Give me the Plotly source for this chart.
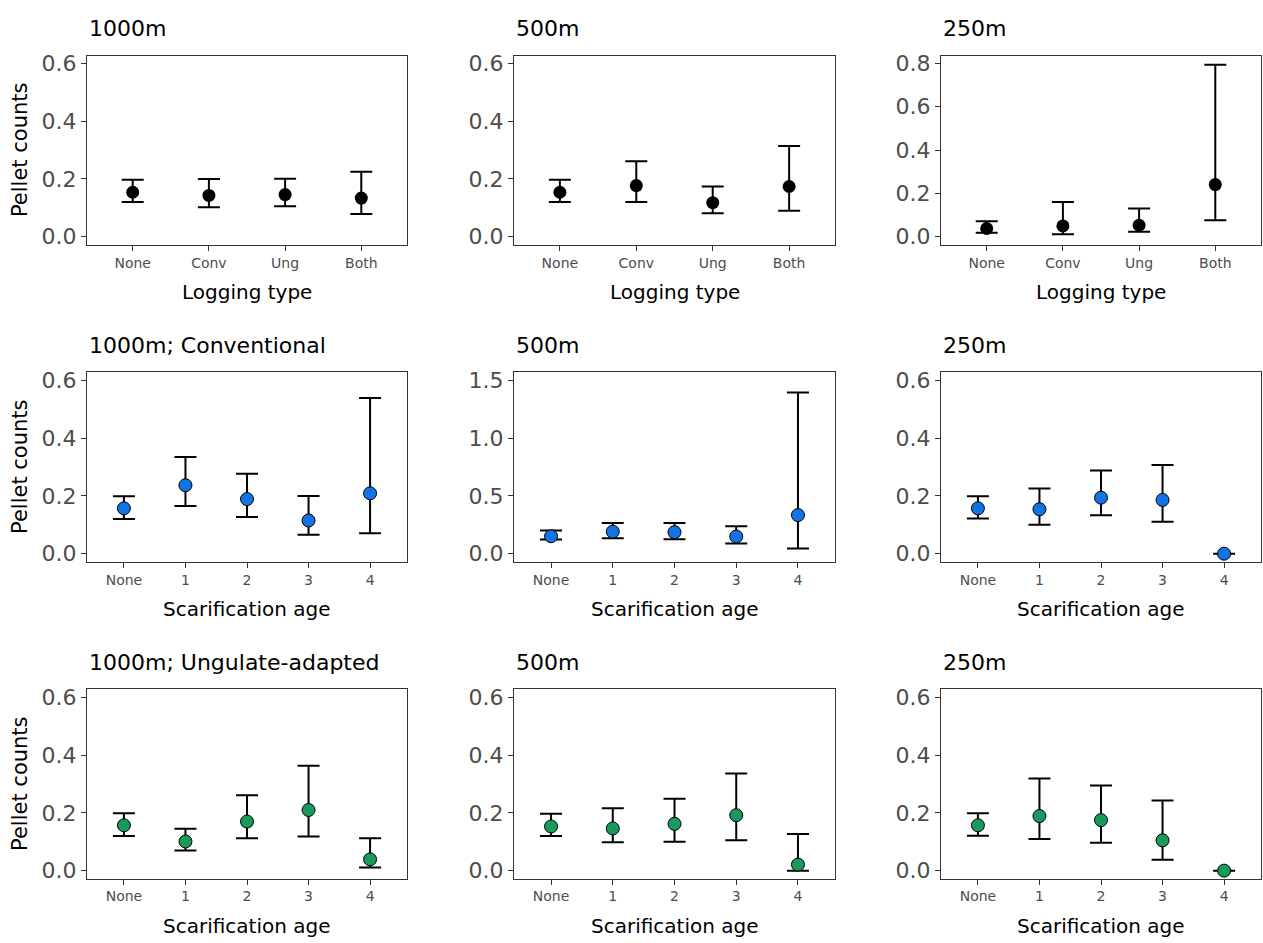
import plotly.graph_objects as go
from plotly.subplots import make_subplots

# ---------------- data ----------------
logging_types = ["None", "Conv", "Ung", "Both"]
scar_ages = ["None", "1", "2", "3", "4"]

# Row 1: logging type
log1000_mean = [0.154, 0.143, 0.146, 0.134]
log1000_hi = [0.197, 0.200, 0.201, 0.225]
log1000_lo = [0.120, 0.102, 0.106, 0.079]

log500_mean = [0.154, 0.177, 0.118, 0.174]
log500_hi = [0.197, 0.261, 0.174, 0.314]
log500_lo = [0.120, 0.120, 0.081, 0.090]

log250_mean = [0.038, 0.050, 0.053, 0.241]
log250_hi = [0.072, 0.160, 0.130, 0.794]
log250_lo = [0.018, 0.012, 0.023, 0.076]

# Row 2: conventional, scarification age
conv1000_mean = [0.157, 0.237, 0.189, 0.115, 0.209]
conv1000_hi = [0.199, 0.335, 0.277, 0.200, 0.539]
conv1000_lo = [0.120, 0.165, 0.127, 0.066, 0.071]

conv500_mean = [0.151, 0.191, 0.186, 0.149, 0.334]
conv500_hi = [0.200, 0.266, 0.266, 0.237, 1.394]
conv500_lo = [0.123, 0.134, 0.126, 0.089, 0.046]

conv250_mean = [0.157, 0.154, 0.194, 0.186, 0.000]
conv250_hi = [0.199, 0.226, 0.288, 0.307, 0.000]
conv250_lo = [0.122, 0.100, 0.133, 0.111, 0.000]

# Row 3: ungulate-adapted, scarification age
ung1000_mean = [0.157, 0.101, 0.170, 0.210, 0.039]
ung1000_hi = [0.199, 0.145, 0.261, 0.363, 0.112]
ung1000_lo = [0.120, 0.070, 0.112, 0.118, 0.011]

ung500_mean = [0.153, 0.146, 0.162, 0.192, 0.021]
ung500_hi = [0.197, 0.216, 0.249, 0.336, 0.127]
ung500_lo = [0.120, 0.098, 0.100, 0.105, 0.000]

ung250_mean = [0.157, 0.189, 0.175, 0.105, 0.000]
ung250_hi = [0.199, 0.319, 0.295, 0.243, 0.000]
ung250_lo = [0.121, 0.110, 0.097, 0.038, 0.000]

titles = ["1000m", "500m", "250m",
          "1000m; Conventional", "500m", "250m",
          "1000m; Ungulate-adapted", "500m", "250m"]
x_titles = ["Logging type"] * 3 + ["Scarification age"] * 6
y_title = "Pellet counts"

# ---------------- styling ----------------
W, H = 1263, 943
BLACK = "#000000"
BLUE = "#1273E3"
GREEN = "#179A5C"

col_px = [(87, 407), (514, 835), (941, 1261)]
row_px = [(52, 243), (372, 563), (692, 883)]

panels = [
    (logging_types, log1000_mean, log1000_hi, log1000_lo, BLACK, 0.6, 0.2),
    (logging_types, log500_mean, log500_hi, log500_lo, BLACK, 0.6, 0.2),
    (logging_types, log250_mean, log250_hi, log250_lo, BLACK, 0.8, 0.2),
    (scar_ages, conv1000_mean, conv1000_hi, conv1000_lo, BLUE, 0.6, 0.2),
    (scar_ages, conv500_mean, conv500_hi, conv500_lo, BLUE, 1.5, 0.5),
    (scar_ages, conv250_mean, conv250_hi, conv250_lo, BLUE, 0.6, 0.2),
    (scar_ages, ung1000_mean, ung1000_hi, ung1000_lo, GREEN, 0.6, 0.2),
    (scar_ages, ung500_mean, ung500_hi, ung500_lo, GREEN, 0.6, 0.2),
    (scar_ages, ung250_mean, ung250_hi, ung250_lo, GREEN, 0.6, 0.2),
]

fig = make_subplots(rows=3, cols=3)
FONT = "DejaVu Sans, Arial, sans-serif"
annotations = []

for i, (cats, mean, hi, lo, col, ymax, dt) in enumerate(panels):
    r, c = i // 3, i % 3
    plus = [h - m for h, m in zip(hi, mean)]
    minus = [m - l for m, l in zip(mean, lo)]
    fig.add_trace(
        go.Scatter(
            x=cats, y=mean, mode="markers",
            marker=dict(size=13, color=col,
                        line=dict(color="black", width=1 if col != BLACK else 0)),
            error_y=dict(type="data", array=plus, arrayminus=minus,
                         color="black", thickness=2, width=11),
            showlegend=False,
        ),
        row=r + 1, col=c + 1,
    )
    x0, x1 = col_px[c]
    y0, y1 = row_px[r]
    pad = ymax * 8 / 175
    xa = "xaxis" if i == 0 else f"xaxis{i+1}"
    ya = "yaxis" if i == 0 else f"yaxis{i+1}"
    n = len(cats)
    fig.layout[xa].update(
        domain=[x0 / W, x1 / W], type="category",
        categoryorder="array", categoryarray=cats,
        range=[-0.6, n - 1 + 0.6],
        showline=True, mirror=True, linecolor="#333333", linewidth=1.2,
        ticks="outside", ticklen=5, tickwidth=1.2, tickcolor="#333333",
        tickfont=dict(size=14, color="#4d4d4d", family=FONT),
        showgrid=False, zeroline=False, fixedrange=True,
    )
    fig.layout[ya].update(
        domain=[1 - y1 / H, 1 - y0 / H],
        range=[-pad, ymax + pad], dtick=dt, tick0=0, tickformat=".1f",
        showline=True, mirror=True, linecolor="#333333", linewidth=1.2,
        ticks="outside", ticklen=5, tickwidth=1.2, tickcolor="#333333",
        tickfont=dict(size=22, color="#4d4d4d", family=FONT),
        showgrid=False, zeroline=False, fixedrange=True,
    )
    # panel title
    annotations.append(dict(
        text=titles[i], x=x0 / W, y=1 - (y0 - 27) / H,
        xref="paper", yref="paper", xanchor="left", yanchor="middle",
        showarrow=False, font=dict(size=22, color="black", family=FONT)))
    # x-axis title
    annotations.append(dict(
        text=x_titles[i], x=(x0 + x1) / 2 / W, y=1 - (y1 + 48) / H,
        xref="paper", yref="paper", xanchor="center", yanchor="middle",
        showarrow=False, font=dict(size=20, color="black", family=FONT)))
    if c == 0:
        annotations.append(dict(
            text=y_title, x=20 / W, y=1 - ((y0 + y1) / 2) / H,
            xref="paper", yref="paper", xanchor="center", yanchor="middle",
            textangle=-90, showarrow=False,
            font=dict(size=21, color="black", family=FONT)))

fig.update_layout(
    width=W, height=H,
    margin=dict(l=0, r=0, t=0, b=0),
    paper_bgcolor="white", plot_bgcolor="white",
    annotations=annotations,
    font=dict(family=FONT),
)

fig.write_html(
    "out.html",
    config={"displayModeBar": False},
    post_script="document.body.style.margin='0';document.body.style.overflow='hidden';",
)
